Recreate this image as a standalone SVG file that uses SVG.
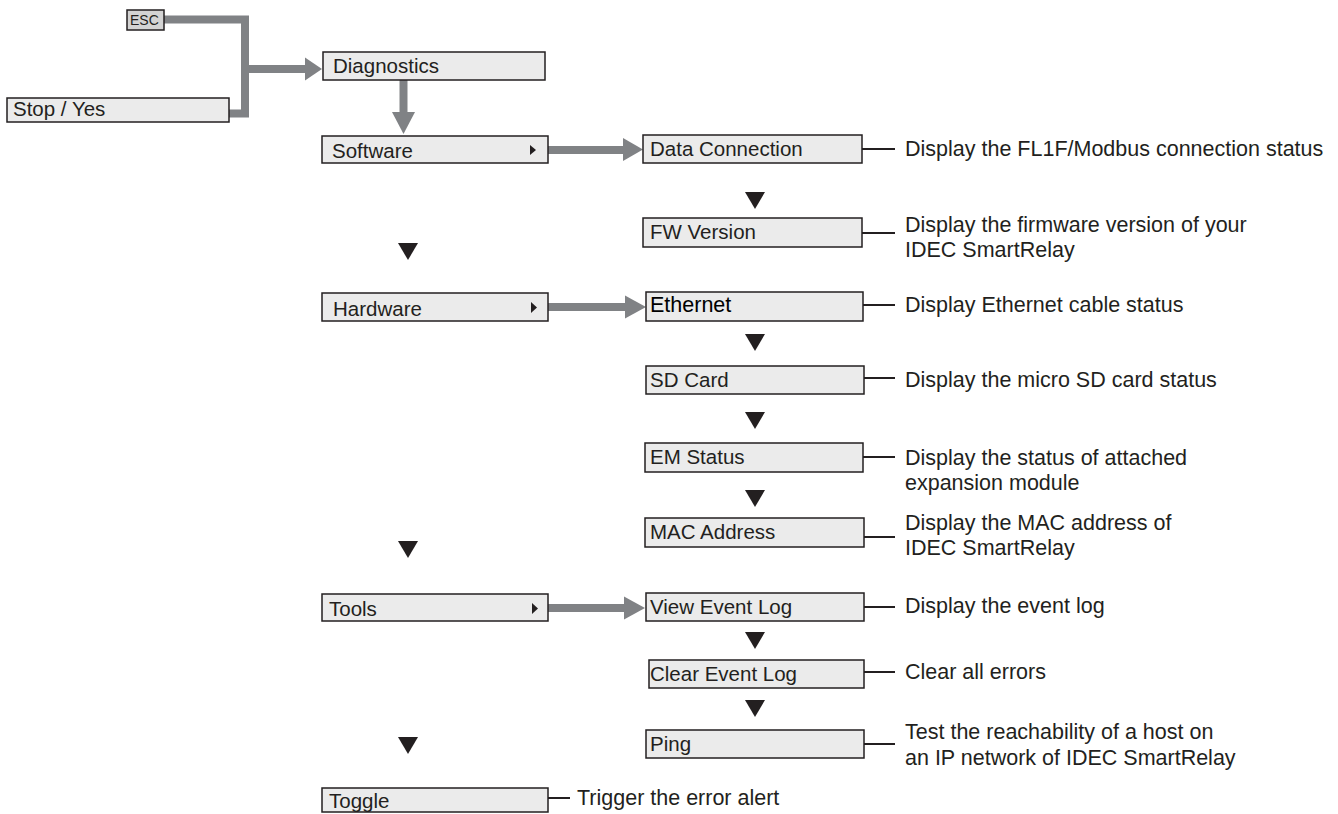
<svg xmlns="http://www.w3.org/2000/svg" width="1338" height="814" viewBox="0 0 1338 814">
<style>
.box{fill:#ebebeb;stroke:#231f20;stroke-width:1.5}
.esc{fill:#d3d3d3;stroke:#231f20;stroke-width:1.5}
.bt{font-family:"Liberation Sans",Arial,sans-serif;font-size:20.5px;fill:#231f20}
.dt{font-family:"Liberation Sans",Arial,sans-serif;font-size:21.5px;fill:#231f20}
.et{font-family:"Liberation Sans",Arial,sans-serif;font-size:14px;fill:#231f20}
.gl{fill:none;stroke:#808285;stroke-width:8;stroke-linejoin:miter}
.gh{fill:#808285}
.ln{stroke:#231f20;stroke-width:2}
.tri{fill:#231f20}
</style>
<rect width="1338" height="814" fill="#ffffff"/>
<g id="connectors">
  <path class="gl" d="M164,19.5 H245 V113.5 H229"/>
  <path class="gl" d="M245,69 H306"/>
  <polygon class="gh" points="305,57.5 322,69 305,80.5"/>
  <path class="gl" d="M403.5,80 V113"/>
  <polygon class="gh" points="392,112 415,112 403.5,134"/>
  <path class="gl" d="M548,150 H624"/>
  <polygon class="gh" points="623,138 643,149.5 623,161"/>
  <path class="gl" d="M548,307 H626"/>
  <polygon class="gh" points="625,295.5 646,307 625,318.5"/>
  <path class="gl" d="M548,608 H625"/>
  <polygon class="gh" points="624,596.5 645,608 624,619.5"/>
  <line class="ln" x1="862" y1="149" x2="895" y2="149"/>
  <line class="ln" x1="862" y1="233" x2="895" y2="233"/>
  <line class="ln" x1="863" y1="305" x2="895" y2="305"/>
  <line class="ln" x1="864" y1="378" x2="895" y2="378"/>
  <line class="ln" x1="863" y1="457" x2="895" y2="457"/>
  <line class="ln" x1="864" y1="537" x2="895" y2="537"/>
  <line class="ln" x1="864" y1="607" x2="895" y2="607"/>
  <line class="ln" x1="864" y1="672" x2="895" y2="672"/>
  <line class="ln" x1="864" y1="744" x2="895" y2="744"/>
  <line class="ln" x1="548" y1="798" x2="570" y2="798"/>
  <polygon class="tri" points="745,192 765,192 755,209"/>
  <polygon class="tri" points="745,334 765,334 755,351"/>
  <polygon class="tri" points="745,412 765,412 755,429"/>
  <polygon class="tri" points="745,490 765,490 755,507"/>
  <polygon class="tri" points="745,632 765,632 755,649"/>
  <polygon class="tri" points="745,700 765,700 755,717"/>
  <polygon class="tri" points="398,243 418,243 408,260"/>
  <polygon class="tri" points="398,541 418,541 408,558"/>
  <polygon class="tri" points="398,737 418,737 408,754"/>
</g>
<g id="esc"><rect class="esc" x="127" y="10" width="37" height="20"/><text class="et" x="130" y="25">ESC</text></g>
<g id="stop"><rect class="box" x="7" y="98" width="222" height="24"/><text class="bt" x="13" y="116">Stop / Yes</text></g>
<g id="diagnostics"><rect class="box" x="323" y="52" width="222" height="28"/><text class="bt" x="333" y="73">Diagnostics</text></g>
<g id="software"><rect class="box" x="322" y="136" width="226" height="27"/><text class="bt" x="332" y="158">Software</text><polygon class="tri" points="530,145 536,150 530,155"/></g>
<g id="hardware"><rect class="box" x="322" y="293" width="226" height="28"/><text class="bt" x="333" y="316">Hardware</text><polygon class="tri" points="531,302 537,307.5 531,313"/></g>
<g id="tools"><rect class="box" x="322" y="594" width="226" height="27"/><text class="bt" x="329" y="616">Tools</text><polygon class="tri" points="532,603 538,608.5 532,614"/></g>
<g id="toggle"><rect class="box" x="322" y="788" width="226" height="24"/><text class="bt" x="329" y="808">Toggle</text></g>
<g id="dataconn"><rect class="box" x="643" y="135" width="219" height="28"/><text class="bt" x="650" y="156">Data Connection</text></g>
<g id="fwversion"><rect class="box" x="643" y="218" width="219" height="29"/><text class="bt" x="650" y="239">FW Version</text></g>
<g id="ethernet"><rect class="box" x="646" y="292" width="217" height="29"/><text class="bt" x="650" y="312" style="font-size:21.5px;fill:#000">Ethernet</text></g>
<g id="sdcard"><rect class="box" x="646" y="366" width="218" height="28"/><text class="bt" x="650" y="387">SD Card</text></g>
<g id="emstatus"><rect class="box" x="645" y="443" width="218" height="29"/><text class="bt" x="650" y="464">EM Status</text></g>
<g id="mac"><rect class="box" x="645" y="518" width="219" height="29"/><text class="bt" x="650" y="539">MAC Address</text></g>
<g id="viewlog"><rect class="box" x="646" y="593" width="218" height="28"/><text class="bt" x="650" y="614">View Event Log</text></g>
<g id="clearlog"><rect class="box" x="649" y="660" width="215" height="28"/><text class="bt" x="650" y="681">Clear Event Log</text></g>
<g id="ping"><rect class="box" x="646" y="730" width="218" height="28"/><text class="bt" x="650" y="751">Ping</text></g>
<g id="descriptions">
  <text class="dt" x="905" y="156">Display the FL1F/Modbus connection status</text>
  <text class="dt" x="905" y="232">Display the firmware version of your</text>
  <text class="dt" x="905" y="257">IDEC SmartRelay</text>
  <text class="dt" x="905" y="312">Display Ethernet cable status</text>
  <text class="dt" x="905" y="387">Display the micro SD card status</text>
  <text class="dt" x="905" y="465">Display the status of attached</text>
  <text class="dt" x="905" y="490">expansion module</text>
  <text class="dt" x="905" y="530">Display the MAC address of</text>
  <text class="dt" x="905" y="555">IDEC SmartRelay</text>
  <text class="dt" x="905" y="613">Display the event log</text>
  <text class="dt" x="905" y="679">Clear all errors</text>
  <text class="dt" x="905" y="739">Test the reachability of a host on</text>
  <text class="dt" x="905" y="765">an IP network of IDEC SmartRelay</text>
  <text class="dt" x="577" y="805">Trigger the error alert</text>
</g>
</svg>
